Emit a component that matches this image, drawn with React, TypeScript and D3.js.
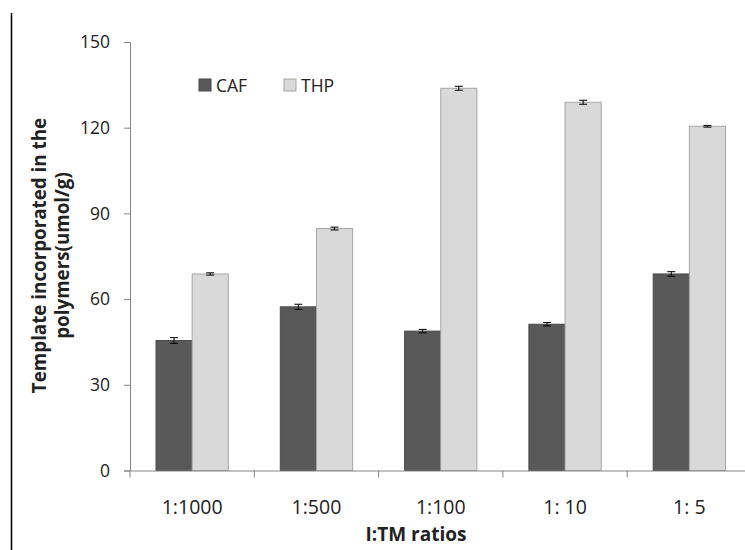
import { useEffect, useRef } from "react";
import * as d3 from "d3";

const ratios = ["1:1000", "1:500", "1:100", "1: 10", "1: 5"];
const series = ["CAF", "THP"];
const cafValues = [45.5, 57.3, 48.8, 51.2, 68.8];
const thpValues = [68.8, 84.7, 133.8, 128.9, 120.5];
const cafErrors = [1.0, 0.9, 0.6, 0.6, 0.8];
const thpErrors = [0.4, 0.5, 0.7, 0.7, 0.3];
const yTicks = [0, 30, 60, 90, 120, 150];

const FONT = "'Open Sans', sans-serif";

export default function App() {
  const ref = useRef<SVGSVGElement>(null);

  useEffect(() => {
    const svg = d3.select(ref.current);
    svg.selectAll("*").remove();

    const left = 130, top = 42, bottom = 470.5;
    const bandW = 124.3;

    const x = d3.scaleBand().domain(ratios).range([left, left + bandW * ratios.length]);
    const x1 = d3.scaleBand().domain(series).range([26, bandW - 26]);
    const y = d3.scaleLinear().domain([0, 150]).range([bottom, top]);

    const fill: Record<string, string> = { CAF: "#595959", THP: "#d9d9d9" };
    const edge: Record<string, string> = { CAF: "#4a4a4a", THP: "#a6a6a6" };

    // page border line on the left
    svg.append("line")
      .attr("x1", 11.5).attr("x2", 11.5).attr("y1", 13).attr("y2", 550)
      .attr("stroke", "#000").attr("stroke-width", 1.5);

    const rows = ratios.map((r, i) => ({
      r,
      vals: [
        { s: "CAF", v: cafValues[i], e: cafErrors[i] },
        { s: "THP", v: thpValues[i], e: thpErrors[i] },
      ],
    }));

    const groups = svg.append("g").selectAll("g").data(rows).join("g")
      .attr("transform", (d) => `translate(${x(d.r)},0)`);

    groups.selectAll("rect").data((d) => d.vals).join("rect")
      .attr("x", (d) => x1(d.s)!)
      .attr("width", x1.bandwidth())
      .attr("y", (d) => y(d.v))
      .attr("height", (d) => y(0) - y(d.v))
      .attr("fill", (d) => fill[d.s])
      .attr("stroke", (d) => edge[d.s])
      .attr("stroke-width", 1);

    const err = groups.selectAll("g.err").data((d) => d.vals).join("g").attr("class", "err")
      .attr("stroke", "#000").attr("stroke-width", 1);
    const cx = (d: any) => x1(d.s)! + x1.bandwidth() / 2;
    err.append("line")
      .attr("x1", cx).attr("x2", cx)
      .attr("y1", (d: any) => y(d.v + d.e)).attr("y2", (d: any) => y(d.v - d.e));
    err.append("line")
      .attr("x1", (d: any) => cx(d) - 4).attr("x2", (d: any) => cx(d) + 4)
      .attr("y1", (d: any) => y(d.v + d.e)).attr("y2", (d: any) => y(d.v + d.e));
    err.append("line")
      .attr("x1", (d: any) => cx(d) - 4).attr("x2", (d: any) => cx(d) + 4)
      .attr("y1", (d: any) => y(d.v - d.e)).attr("y2", (d: any) => y(d.v - d.e));

    // y axis
    const yAxis = svg.append("g").attr("transform", `translate(${left},0)`)
      .call(d3.axisLeft(y).tickValues(yTicks).tickSize(6).tickPadding(14));
    yAxis.select(".domain").attr("stroke", "#868686");
    yAxis.selectAll(".tick line").attr("stroke", "#868686");
    yAxis.selectAll("text").attr("font-family", FONT).attr("font-size", 17.5).attr("fill", "#222");

    // x axis
    const xAxis = svg.append("g").attr("transform", `translate(0,${bottom})`)
      .call(d3.axisBottom(x).tickSize(0).tickPadding(30));
    xAxis.select(".domain").attr("stroke", "#868686");
    xAxis.selectAll("text").attr("font-family", FONT).attr("font-size", 19.5).attr("fill", "#222");
    xAxis.append("g").selectAll("line").data(d3.range(ratios.length + 1)).join("line")
      .attr("x1", (i) => left + i * bandW).attr("x2", (i) => left + i * bandW)
      .attr("y1", 0).attr("y2", 7).attr("stroke", "#868686");

    // axis titles
    svg.append("text")
      .attr("x", 416).attr("y", 541).attr("text-anchor", "middle")
      .attr("font-family", FONT).attr("font-weight", "bold").attr("font-size", 19)
      .attr("fill", "#222").text("I:TM ratios");

    const yt = svg.append("text")
      .attr("transform", "translate(0,255.5) rotate(-90)")
      .attr("text-anchor", "middle")
      .attr("font-family", FONT).attr("font-weight", "bold").attr("font-size", 18.8)
      .attr("fill", "#222");
    yt.append("tspan").attr("x", 0).attr("y", 46).text("Template incorporated in the");
    yt.append("tspan").attr("x", 0).attr("y", 69).text("polymers(umol/g)");

    // legend
    const legend = svg.append("g").selectAll("g").data(series).join("g")
      .attr("transform", (_d, i) => `translate(${199 + i * 85},79)`);
    legend.append("rect")
      .attr("width", 12).attr("height", 12)
      .attr("fill", (d) => fill[d]).attr("stroke", (d) => edge[d]);
    legend.append("text")
      .attr("x", 17).attr("y", 12.5)
      .attr("font-family", FONT).attr("font-size", 17.5).attr("fill", "#222")
      .text((d) => d);
  }, []);

  return (
    <svg ref={ref} width={745} height={550}
      style={{ position: "absolute", left: 0, top: 0, background: "#fff" }} />
  );
}
